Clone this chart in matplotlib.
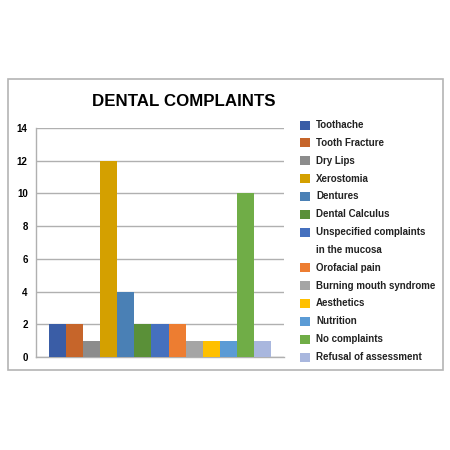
import matplotlib
matplotlib.use("Agg")
import matplotlib.pyplot as plt
from matplotlib.patches import Rectangle
import numpy as np

categories = ["Toothache", "Tooth Fracture", "Dry Lips", "Xerostomia", "Dentures",
              "Dental Calculus", "Unspecified complaints\nin the mucosa", "Orofacial pain",
              "Burning mouth syndrome", "Aesthetics", "Nutrition", "No complaints",
              "Refusal of assessment"]
values = [2, 2, 1, 12, 4, 2, 2, 2, 1, 1, 1, 10, 1]
colors = ["#3A5DA6", "#C6652A", "#8C8C8C", "#D4A000", "#4A80B5", "#5A9038",
          "#4570BE", "#ED7D31", "#A5A5A5", "#FFC000", "#5B9BD5", "#70AD47", "#A9B7DE"]
yticks = [0, 2, 4, 6, 8, 10, 12, 14]
title = "DENTAL COMPLAINTS"

plt.rcParams['font.family'] = ['Liberation Sans', 'DejaVu Sans']

W = H = 450
fig = plt.figure(figsize=(4.5, 4.5), dpi=100)

def fx(px):
    return px / W

def fy(py):
    return 1 - py / H

# outer frame
fig.patches.append(Rectangle((fx(8), fy(370)), fx(443) - fx(8), fy(79) - fy(370),
                             transform=fig.transFigure, fill=False,
                             edgecolor="#b4b4b4", linewidth=1.2))

ax = fig.add_axes([fx(36), fy(357), fx(284) - fx(36), fy(128) - fy(357)])
x = np.arange(len(values))
ax.bar(x, values, width=1.0, color=colors, zorder=3)
ax.set_ylim(0, 14)
ax.set_xlim(-1.26, len(values) - 1 + 1.26)
ax.set_yticks(yticks)
ax.set_yticklabels([str(t) for t in yticks], fontsize=7, fontweight='bold')
ax.set_xticks([])
ax.tick_params(axis='y', length=0, pad=6)
ax.grid(axis='y', color="#b0b0b0", linewidth=1.0, zorder=0)
for s in ['top', 'right']:
    ax.spines[s].set_visible(False)
ax.spines['left'].set_color("#b0b0b0")
ax.spines['bottom'].set_color("#b0b0b0")
ax.spines['left'].set_linewidth(1.0)
ax.spines['bottom'].set_linewidth(1.0)

fig.text(fx(184), fy(102), title, ha='center', va='center', fontsize=12.2,
         fontweight='bold')

# legend drawn manually
line_h = 17.85
y0 = 125
row = 0
for lab, col in zip(categories, colors):
    yc = y0 + row * line_h
    fig.patches.append(Rectangle((fx(300), fy(yc + 4.5)), fx(10), fy(yc - 4.5) - fy(yc + 4.5),
                                 transform=fig.transFigure, facecolor=col,
                                 edgecolor='none'))
    for i, part in enumerate(lab.split("\n")):
        fig.text(fx(316), fy(yc + i * line_h), part, ha='left', va='center',
                 fontsize=7, fontweight='bold', color="#222222")
    row += len(lab.split("\n"))

fig.savefig("out.png", dpi=100, facecolor="white")
